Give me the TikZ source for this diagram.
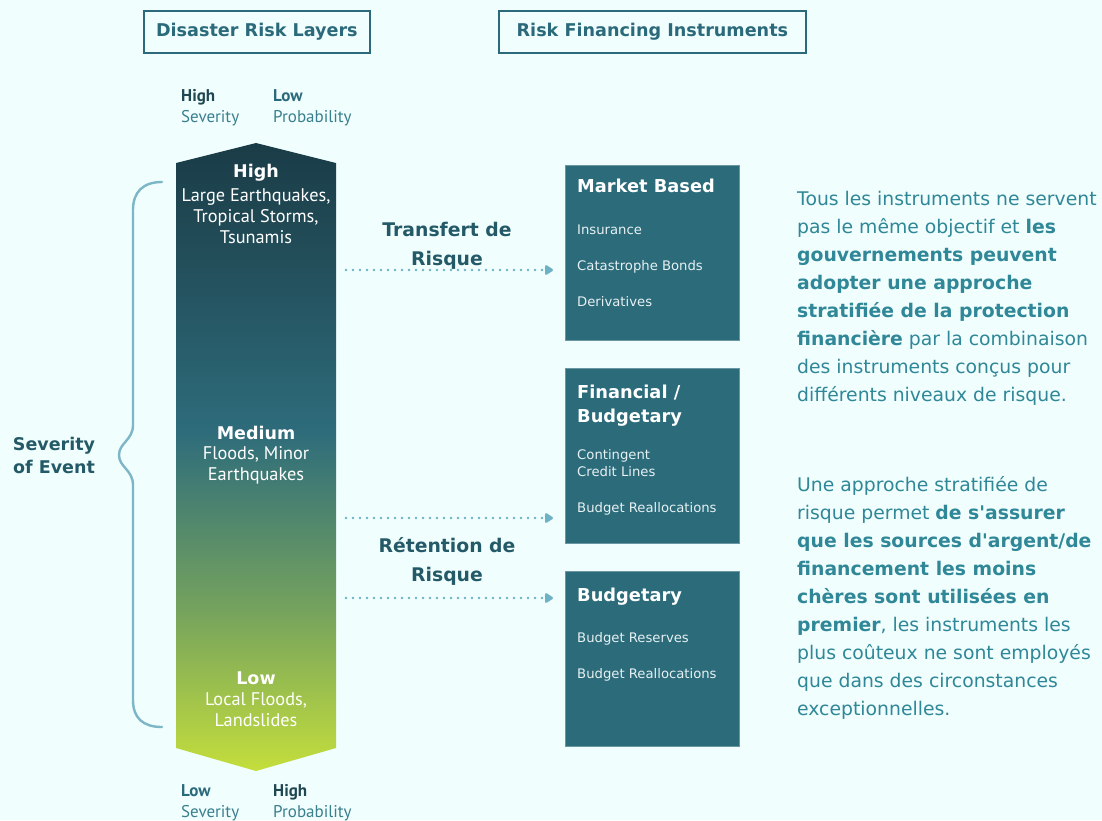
\documentclass[tikz,border=0pt]{standalone}
\usepackage{fontspec}
\setmainfont{DejaVu Sans}[Ligatures=TeXOff]
\newfontfamily\ptsans{PT Sans}
\usetikzlibrary{arrows.meta}
\definecolor{bg}{HTML}{F0FEFE}
\definecolor{boxteal}{HTML}{2C6B7A}
\definecolor{titleteal}{HTML}{2A6A7A}
\definecolor{darkhead}{HTML}{1F4752}
\definecolor{labteal}{HTML}{3A7F8E}
\definecolor{bracecol}{HTML}{7DB6C6}
\definecolor{dotcol}{HTML}{6CB2C4}
\definecolor{paracol}{HTML}{2F8797}
\definecolor{itemcol}{HTML}{E6F1F3}
\definecolor{lgreen}{HTML}{C4DE3C}
\definecolor{olivec}{HTML}{74A25E}
\definecolor{tealm}{HTML}{2E6C7B}
\definecolor{darkt}{HTML}{1A3C47}
\definecolor{midd}{HTML}{24525E}
\pgfdeclareverticalshading{riskshade}{100bp}{color(0bp)=(lgreen); color(25bp)=(lgreen); color(38bp)=(olivec); color(52bp)=(tealm); color(64bp)=(midd); color(75bp)=(darkt); color(100bp)=(darkt)}
\tikzset{
  titlebox/.style={draw=titleteal, line width=1.8pt, inner sep=0pt, anchor=north west, text=titleteal, font=\bfseries\fontsize{17.6}{20}\selectfont},
  axlab/.style={anchor=base west, inner sep=0pt, align=left, font=\ptsans\fontsize{17}{21}\selectfont},
  intext/.style={inner sep=0pt, text=white, align=center, font=\ptsans\fontsize{18.3}{21}\selectfont},
  inbold/.style={inner sep=0pt, text=white, font=\bfseries\fontsize{17.5}{21}\selectfont},
  instbox/.style={fill=boxteal, draw=boxteal!70!white, line width=0.6pt, minimum width=174pt, minimum height=175pt, anchor=north west, inner sep=0pt},
  boxtitle/.style={anchor=base west, inner sep=0pt, text=white, align=left, font=\bfseries\fontsize{17.8}{24}\selectfont},
  boxitem/.style={anchor=base west, inner sep=0pt, text=itemcol, align=left, font=\fontsize{13.2}{17}\selectfont},
  midlab/.style={inner sep=0pt, text=titleteal!85!black, align=center, font=\bfseries\fontsize{18.8}{29}\selectfont},
  dotarrow/.style={draw=dotcol, line width=2.6pt, line cap=round, dash pattern=on 0pt off 7pt, shorten >=12pt, -{Triangle[length=9pt,width=11pt,round]}},
  para/.style={anchor=north west, inner sep=0pt, text=paracol, align=left, font=\fontsize{18.8}{28}\selectfont}
}
\begin{document}
\begin{tikzpicture}[x=1pt,y=-1pt]
\fill[bg] (0,0) rectangle (1102,820);
\useasboundingbox (0,0) rectangle (1102,820);

% titles
\node[titlebox, minimum width=226pt, minimum height=42pt] (tl) at (143,10) {Disaster Risk Layers};
\node[titlebox, minimum width=307pt, minimum height=42pt] (tr) at (498,10) {Risk Financing Instruments};

% axis labels top (base = last line)
\node[axlab] (hs) at (181,122) {{\bfseries\color{darkhead}High}\\{\color{labteal}Severity}};
\node[axlab] (lp) at (273,122) {{\bfseries\color{titleteal}Low}\\{\color{labteal}Probability}};
% axis labels bottom
\node[axlab] (ls) at (181,817) {{\bfseries\color{titleteal}Low}\\{\color{labteal}Severity}};
\node[axlab] (hp) at (273,817) {{\bfseries\color{darkhead}High}\\{\color{labteal}Probability}};

% gradient arrow
\shade[shading=riskshade] (176,163) -- (256,143) -- (336,163) -- (336,748) -- (256,771) -- (176,748) -- cycle;
\node[inbold] (hi) at (256,173) {High};
\node[intext] (hitxt) at (256,216) {Large Earthquakes,\\Tropical Storms,\\Tsunamis};
\node[inbold] (me) at (256,433) {Medium};
\node[intext] (metxt) at (256,465) {Floods, Minor\\Earthquakes};
\node[inbold] (lo) at (256,678) {Low};
\node[intext] (lotxt) at (256,710) {Local Floods,\\Landslides};

% brace
\draw[bracecol, line width=2.4pt, line cap=round]
  (162,182) .. controls (143,182) and (133,192) .. (133,210)
  -- (133,425) .. controls (133,440) and (119,443) .. (119,455)
  .. controls (119,467) and (133,470) .. (133,485)
  -- (133,700) .. controls (133,718) and (143,727) .. (162,727);
\node[midlab, font=\bfseries\fontsize{17.5}{23}\selectfont] (sev) at (54,455) {Severity\\of Event};

% instrument boxes
\node[instbox] (mb) at (565,165) {};
\node[instbox] (fb) at (565,368) {};
\node[instbox] (bb) at (565,571) {};

\node[boxtitle] (mbt) at (577,192) {Market Based};
\node[boxitem] (mb1) at (577,234) {Insurance};
\node[boxitem] (mb2) at (577,270) {Catastrophe Bonds};
\node[boxitem] (mb3) at (577,306) {Derivatives};

\node[boxtitle] (fbt) at (577,422) {Financial /\\Budgetary};
\node[boxitem] (fb1) at (577,476) {Contingent\\Credit Lines};
\node[boxitem] (fb2) at (577,512) {Budget Reallocations};

\node[boxtitle] (bbt) at (577,601) {Budgetary};
\node[boxitem] (bb1) at (577,642) {Budget Reserves};
\node[boxitem] (bb2) at (577,678) {Budget Reallocations};

% middle labels
\node[midlab] (trans) at (447,245.5) {Transfert de\\Risque};
\node[midlab] (ret) at (447,561) {Rétention de\\Risque};

% dotted connectors
\coordinate (a1) at (346,270);
\coordinate (a2) at (346,518);
\coordinate (a3) at (346,598);
\draw[dotarrow] (a1) -- (mb.west |- a1);
\draw[dotarrow] (a2) -- (fb.west |- a2);
\draw[dotarrow] (a3) -- (bb.west |- a3);

% right paragraphs
\node[para] (p1) at (797,191) {Tous les instruments ne servent\\
pas le même objectif et \textbf{les}\\
\textbf{gouvernements peuvent}\\
\textbf{adopter une approche}\\
\textbf{stratifiée de la protection}\\
\textbf{financière} par la combinaison\\
des instruments conçus pour\\
différents niveaux de risque.};
\node[para] (p2) at (797,476) {Une approche stratifiée de\\
risque permet \textbf{de s'assurer}\\
\textbf{que les sources d'argent/de}\\
\textbf{financement les moins}\\
\textbf{chères sont utilisées en}\\
\textbf{premier}, les instruments les\\
plus coûteux ne sont employés\\
que dans des circonstances\\
exceptionnelles.};
\end{tikzpicture}
\end{document}
